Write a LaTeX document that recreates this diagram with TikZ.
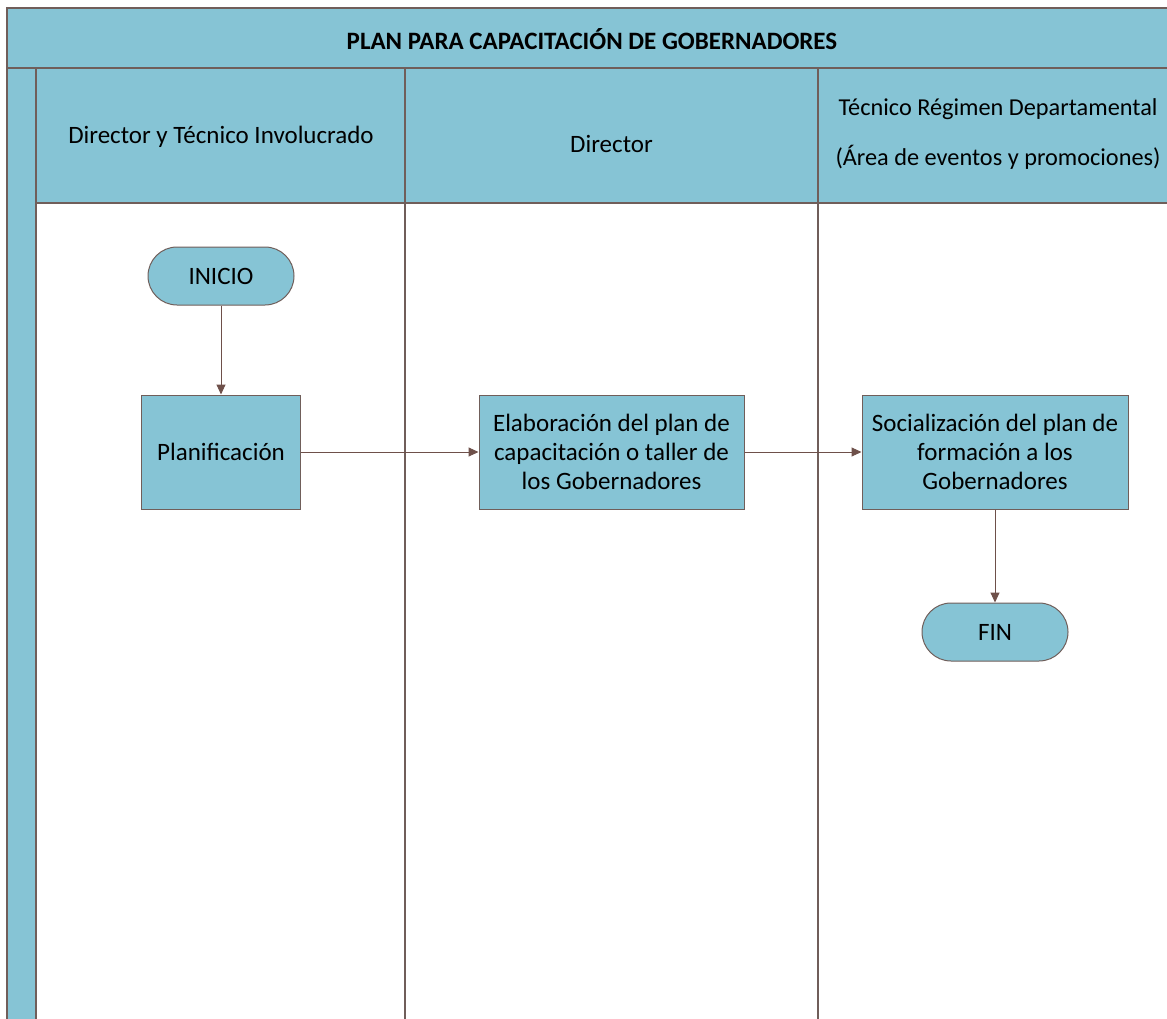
\documentclass[tikz,border=0pt]{standalone}
\usepackage{fontspec}
\setmainfont{Carlito}
\usetikzlibrary{arrows.meta}
\definecolor{laneblue}{RGB}{134,196,213}
\definecolor{edgegrey}{RGB}{112,94,90}
\definecolor{flowbrown}{RGB}{110,80,74}
\tikzset{
  frameline/.style={draw=edgegrey, line width=1.6pt},
  stepbox/.style={rectangle, fill=laneblue, draw=edgegrey, line width=1pt,
    minimum width=#1, minimum height=114pt, inner sep=0pt, align=center,
    font=\fontsize{25}{29}\selectfont},
  terminal/.style={rectangle, rounded corners=29pt, fill=laneblue, draw=edgegrey,
    line width=1pt, minimum width=146pt, minimum height=58pt, inner sep=0pt,
    font=\fontsize{25}{29}\selectfont},
  lanetitle/.style={inner sep=0pt, align=center, font=\fontsize{25}{50}\selectfont},
  flow/.style={draw=flowbrown, line width=1pt, -{Triangle[length=10pt,width=9pt]}}
}
\begin{document}
\begin{tikzpicture}[x=1pt,y=-1pt]
  \useasboundingbox (0,0) rectangle (1167,1019);
  \begin{scope}
    \clip (0,0) rectangle (1167,1019);
    % title band, side strip and header row
    \fill[laneblue] (7,8) rectangle (1175,68);
    \fill[laneblue] (7,68) rectangle (36,1025);
    \fill[laneblue] (36,68) rectangle (1175,203);
    % frame and lane lines
    \draw[frameline] (7,1025) -- (7,8) -- (1175,8);
    \draw[frameline] (7,68) -- (1175,68);
    \draw[frameline] (36,1025) -- (36,68);
    \draw[frameline] (36,203) -- (1175,203);
    \draw[frameline] (405,68) -- (405,1025);
    \draw[frameline] (818,68) -- (818,1025);
    % headings
    \node[inner sep=0pt, font=\fontsize{25}{30}\selectfont\bfseries] (title) at (592,39) {PLAN PARA CAPACITACIÓN DE GOBERNADORES};
    \node[lanetitle] (lane1) at (221,137) {Director y Técnico Involucrado};
    \node[lanetitle] (lane2) at (611.5,144) {Director};
    \node[lanetitle, font=\fontsize{24.3}{50}\selectfont] (lane3) at (998,134) {Técnico Régimen Departamental\\(Área de eventos y promociones)};
  \end{scope}
  % process steps
  \node[terminal] (inicio) at (221,276) {INICIO};
  \node[stepbox=159pt] (plan) at (221,452) {Planificación};
  \node[stepbox=265pt] (elab) at (611.5,452) {Elaboración del plan de\\capacitación o taller de\\los Gobernadores};
  \node[stepbox=266pt] (social) at (995,452) {Socialización del plan de\\formación a los\\Gobernadores};
  \node[terminal] (fin) at (995,632) {FIN};
  % connectors
  \draw[flow] (inicio) -- (plan);
  \draw[flow] (plan) -- (elab);
  \draw[flow] (elab) -- (social);
  \draw[flow] (social) -- (fin);
\end{tikzpicture}
\end{document}
